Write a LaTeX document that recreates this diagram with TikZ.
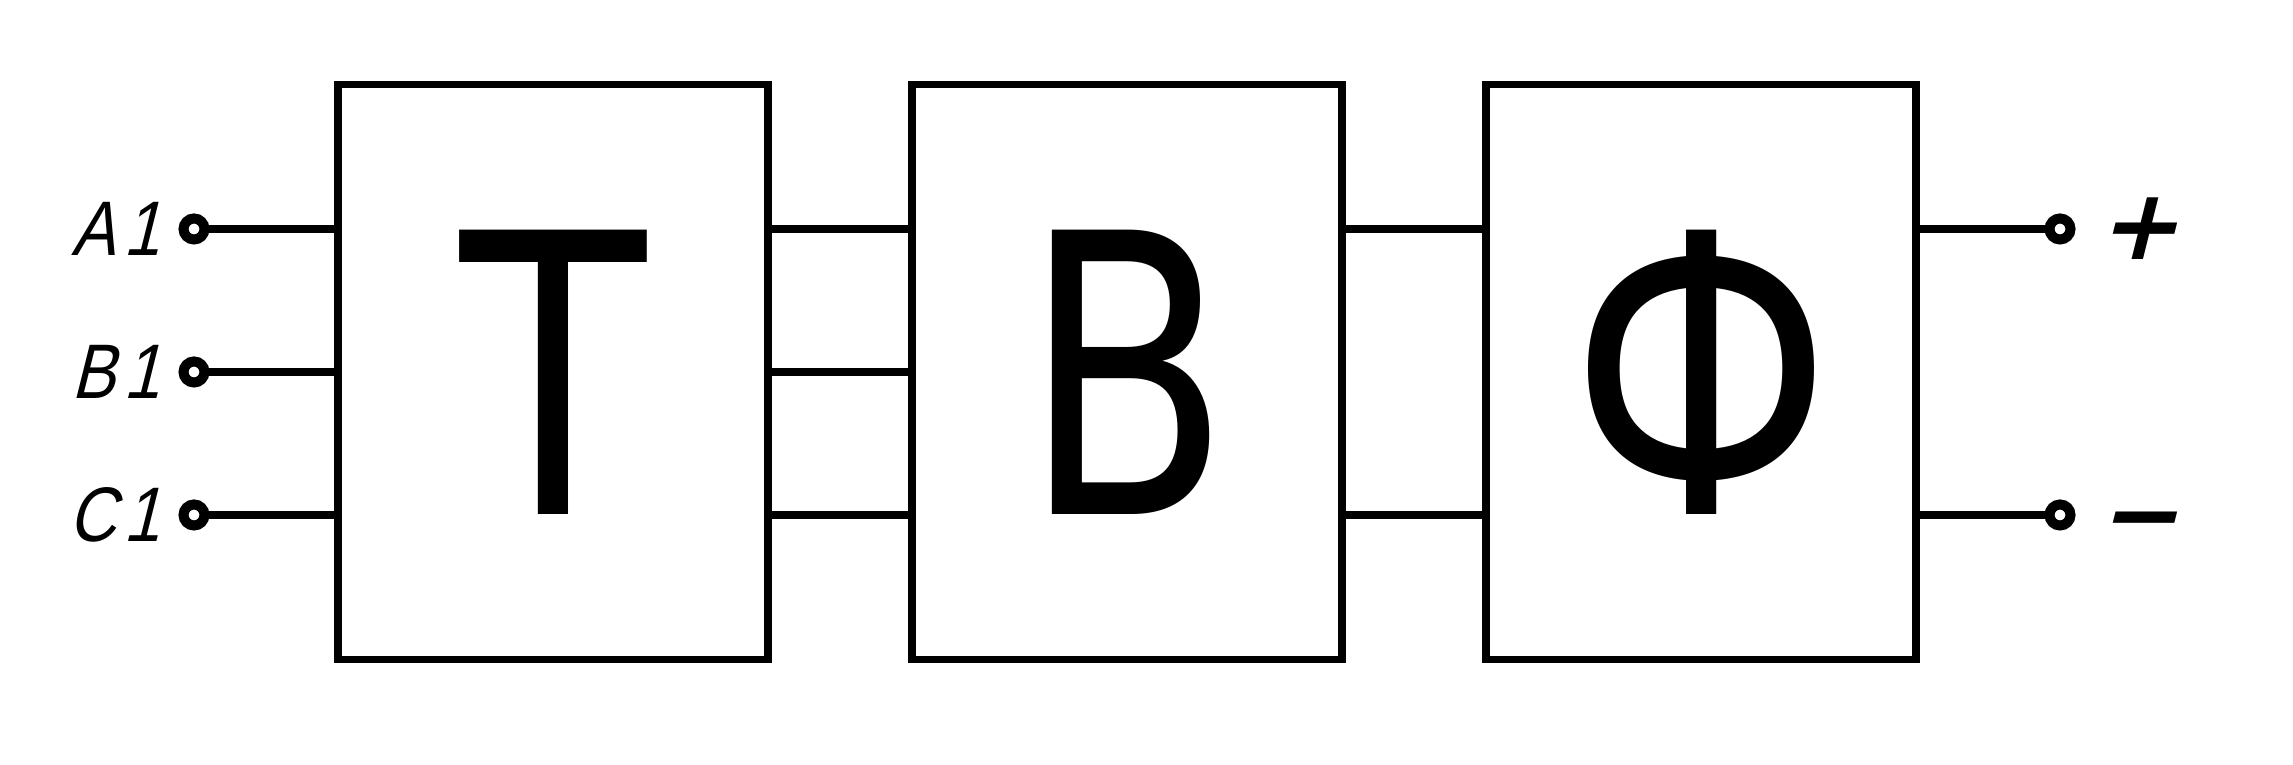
\documentclass[tikz,border=0pt]{standalone}
\usepackage{fontspec}
\setmainfont{DejaVu Sans}
\newfontfamily\gostfont[FakeStretch=0.78]{DejaVu Sans}
\newfontfamily\gostitfont[FakeStretch=0.85,FakeSlant=0.25,LetterSpace=10]{Liberation Sans}
\newfontfamily\signfont[FakeSlant=0.25]{DejaVu Sans}
\usetikzlibrary{positioning}
\tikzset{
  blk/.style={draw,line width=.75mm,minimum width=43mm,minimum height=57.5mm,inner sep=0pt,font=\gostfont\fontsize{111}{111}\selectfont},
  term/.style={circle,draw,fill=white,line width=1mm,minimum size=2.1mm,inner sep=0pt,outer sep=0pt},
  pin/.style={inner sep=0pt,font=\gostitfont\fontsize{22}{22}\selectfont},
  sgn/.style={inner sep=0pt,font=\signfont\bfseries\fontsize{28}{28}\selectfont}
}

\begin{document}
\begin{tikzpicture}[x=.1mm,y=.1mm,line width=.75mm]
\useasboundingbox (0,0) rectangle (2293,765);
\node[blk] (tr) at (553,393) {Т};
\node[blk] (rect) at (1127,393) {В};
\node[blk] (filt) at (1701,393) {Ф};
% three-phase input
\foreach \n/\y in {a/536,b/393,c/250}{
  \node[term] (\n1) at (194,\y) {};
  \draw (\n1) -- (\n1 -| tr.west);\draw (tr.east |- \n1) -- (rect.west |- \n1);}
\node[pin,left=2mm of a1] (la1) {A1};\node[pin,left=2mm of b1] (lb1) {B1};\node[pin,left=2mm of c1] (lc1) {C1};
% dc output
\node[term] (pos) at (2060,536) {};\node[term] (neg) at (2060,250) {};
\foreach \t in {pos,neg}{\draw (rect.east |- \t) -- (filt.west |- \t);\draw (filt.east |- \t) -- (\t);}
\node[sgn,right=2.2mm of pos] (lpos) {+};\node[sgn,right=2.2mm of neg,yshift=-1.5mm] (lneg) {−};
\end{tikzpicture}
\end{document}
